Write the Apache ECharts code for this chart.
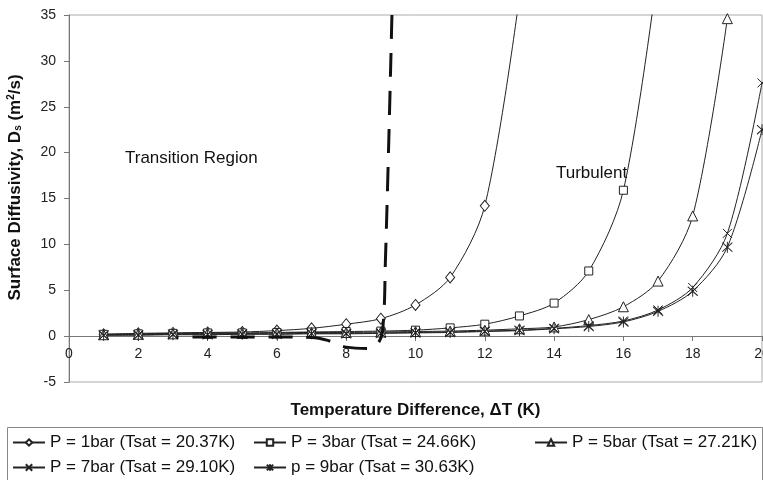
<!DOCTYPE html>
<html>
<head>
<meta charset="utf-8">
<script src="https://cdn.jsdelivr.net/npm/echarts@6/dist/echarts.min.js"></script>
<style>
html,body{margin:0;padding:0;background:#fff;}
#chart{width:763px;height:480px;}
</style>
</head>
<body>
<div id="chart"></div>
<script>
// ---- data ----
var seriesNames = [
  'P = 1bar (Tsat = 20.37K)',
  'P = 3bar (Tsat = 24.66K)',
  'P = 5bar (Tsat = 27.21K)',
  'P = 7bar (Tsat = 29.10K)',
  'p = 9bar (Tsat = 30.63K)'
];
var x1 = [1,2,3,4,5,6,7,8,9,10,11,12,13];
var p1 = [0.2,0.3,0.35,0.4,0.45,0.6,0.85,1.3,1.9,3.4,6.4,14.2,37];
var x3 = [1,2,3,4,5,6,7,8,9,10,11,12,13,14,15,16,17];
var p3 = [0.2,0.25,0.3,0.35,0.35,0.4,0.45,0.5,0.55,0.65,0.9,1.3,2.2,3.6,7.1,15.9,40];
var x5 = [1,2,3,4,5,6,7,8,9,10,11,12,13,14,15,16,17,18,19];
var p5 = [0.15,0.2,0.25,0.3,0.3,0.35,0.4,0.4,0.45,0.5,0.55,0.65,0.8,1.0,1.8,3.2,6.0,13.1,34.6];
var x7 = [1,2,3,4,5,6,7,8,9,10,11,12,13,14,15,16,17,18,19,20];
var p7 = [0.1,0.15,0.2,0.2,0.25,0.25,0.3,0.3,0.35,0.4,0.45,0.55,0.65,0.85,1.15,1.65,2.85,5.3,11.2,27.6];
var x9 = [1,2,3,4,5,6,7,8,9,10,11,12,13,14,15,16,17,18,19,20];
var p9 = [0.1,0.1,0.15,0.15,0.2,0.2,0.25,0.25,0.3,0.35,0.4,0.5,0.6,0.8,1.05,1.55,2.7,4.9,9.7,22.5];
// transition boundary (dashed curve)
var boundaryX = [9.32,9.22,9.13,9.07,8.95,8.6,8.0,7.5,7.0,6.0,5.0,4.0,3.1];
var boundaryY = [35,20,8,1.5,-0.6,-1.35,-1.2,-0.5,-0.15,-0.1,-0.1,-0.1,-0.1];
var xTicks = {min:0, max:20, interval:2};
var yTicks = {min:-5, max:35, interval:5};

function pairs(xs, ys){ return xs.map(function(x,i){ return [x, ys[i]]; }); }

var symX = 'path://M0,0L10,10M10,0L0,10';
var symStar = 'path://M0,1L10,11M10,1L0,11M5,0L5,12';
var markers = [
  {symbol:'diamond', size:[9,11]},
  {symbol:'rect', size:8},
  {symbol:'triangle', size:[10,10]},
  {symbol:symX, size:9},
  {symbol:symStar, size:[10,11]}
];
var dataSets = [pairs(x1,p1), pairs(x3,p3), pairs(x5,p5), pairs(x7,p7), pairs(x9,p9)];

var series = dataSets.map(function(d, i){
  return {
    name: seriesNames[i],
    type: 'line',
    data: d,
    smooth: 0.3,
    symbol: markers[i].symbol,
    symbolSize: markers[i].size,
    showAllSymbol: true,
    lineStyle: {color:'#222', width:1},
    itemStyle: {color:'#fff', borderColor:'#222', borderWidth:1},
    z: 3
  };
});
series.push({
  name: 'boundary',
  type: 'line',
  data: pairs(boundaryX, boundaryY),
  smooth: 0.4,
  symbol: 'none',
  lineStyle: {color:'#111', width:3, type:[24,14]},
  z: 4,
  silent: true
});

var legendPos = [[7,429],[248,429],[529,429],[7,454],[248,454]];
var legends = seriesNames.map(function(n, i){
  return {
    data: [n],
    left: legendPos[i][0],
    top: legendPos[i][1],
    itemWidth: 32,
    itemHeight: 8,
    itemGap: 6,
    textStyle: {fontFamily:'Liberation Sans, Arial', fontSize:17, color:'#111'},
    selectedMode: false
  };
});

var FONT = 'Liberation Sans, Arial';
var chart = echarts.init(document.getElementById('chart'), null, {renderer:'canvas'});
chart.setOption({
  animation: false,
  backgroundColor: '#fff',
  grid: {left:69, right:1, top:15, bottom:98, show:true, borderColor:'#aaa', borderWidth:1, containLabel:false, outerBoundsMode:'none'},
  legend: legends,
  xAxis: {
    type: 'value',
    position: 'bottom',
    offset: -46,
    min: xTicks.min, max: xTicks.max, interval: xTicks.interval,
    axisLine: {onZero:false, lineStyle:{color:'#777', width:1}},
    axisTick: {show:true, inside:false, length:5, lineStyle:{color:'#777'}},
    splitLine: {show:false},
    axisLabel: {fontFamily:FONT, fontSize:14, color:'#222', margin:11},
    name: 'Temperature Difference, \u0394T (K)',
    nameLocation: 'middle',
    nameGap: 66,
    nameTextStyle: {fontFamily:FONT, fontSize:17, fontWeight:'bold', color:'#111'}
  },
  yAxis: {
    type: 'value',
    min: yTicks.min, max: yTicks.max, interval: yTicks.interval,
    axisLine: {show:true, lineStyle:{color:'#777', width:1}},
    axisTick: {show:true, inside:false, length:5, lineStyle:{color:'#777'}},
    splitLine: {show:false},
    axisLabel: {fontFamily:FONT, fontSize:14, color:'#222', margin:13},
    name: '{a|Surface Diffusivity, D}{sub|s}{a| (m}{sup|2}{a|/s)}',
    nameLocation: 'middle',
    nameGap: 45,
    nameTextStyle: {
      fontFamily:FONT, fontSize:17, fontWeight:'bold', color:'#111',
      padding:[0,0,0,22],
      rich: {
        a: {fontFamily:FONT, fontSize:17, fontWeight:'bold', color:'#111'},
        sub: {fontFamily:FONT, fontSize:10, color:'#111', padding:[6,0,0,0]},
        sup: {fontFamily:FONT, fontSize:10, color:'#111', fontWeight:'bold', padding:[0,0,8,0]}
      }
    }
  },
  graphic: [
    {type:'rect', left:5, top:425, shape:{width:755, height:60}, style:{fill:'none', stroke:'#888', lineWidth:1}, silent:true},
    {type:'text', left:125, top:150, style:{text:'Transition Region', font:'17px "Liberation Sans", Arial', fill:'#111'}},
    {type:'text', left:556, top:165, style:{text:'Turbulent', font:'17px "Liberation Sans", Arial', fill:'#111'}}
  ],
  series: series
});
</script>
</body>
</html>
